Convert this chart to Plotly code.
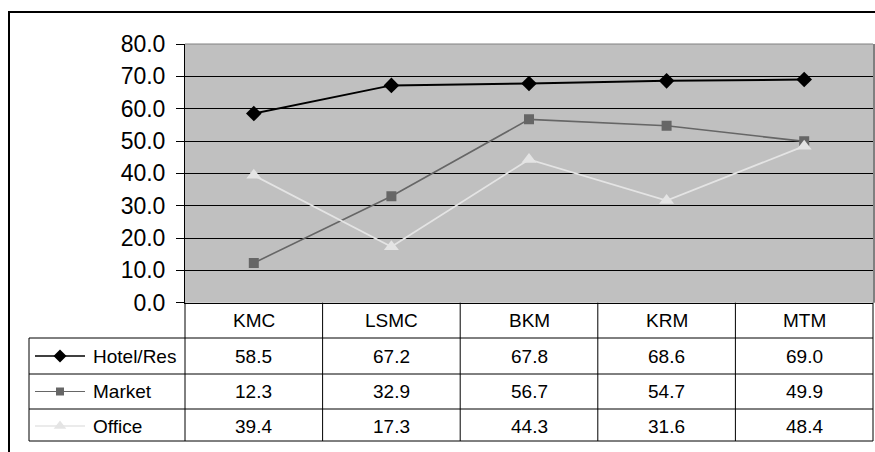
import plotly.graph_objects as go

# Survey results by site
categories = ["KMC", "LSMC", "BKM", "KRM", "MTM"]
hotel_res = [58.5, 67.2, 67.8, 68.6, 69.0]
market = [12.3, 32.9, 56.7, 54.7, 49.9]
office = [39.4, 17.3, 44.3, 31.6, 48.4]
y_ticks = [0, 10, 20, 30, 40, 50, 60, 70, 80]

W, H = 875, 452
FONT = "Liberation Sans, Arial, sans-serif"

# Plot-area box and data-table geometry (pixels)
PL, PR, PT, PB = 185, 873, 44, 302.7
TAB_L = 29
ROW_Y = [338, 374, 409, 441]          # horizontal rule positions
CAT_Y = 320                           # category label row centre
ROW_C = [356, 391.5, 426]             # series row centres
COL_X = [185, 322.6, 460.2, 597.8, 735.4, 873]


def px(x):
    return x / W


def py(y):
    return 1 - y / H


series = [
    dict(name="Hotel/Res", values=hotel_res, color="#000000",
         symbol="diamond", msize=12, lw=2),
    dict(name="Market", values=market, color="#666666",
         symbol="square", msize=10, lw=1.6),
    dict(name="Office", values=office, color="#e4e4e4",
         symbol="triangle-up", msize=13, lw=1.8),
]

fig = go.Figure()

for s in series:
    fig.add_trace(go.Scatter(
        x=categories, y=s["values"], mode="lines+markers",
        name=s["name"], xaxis="x", yaxis="y",
        line=dict(color=s["color"], width=s["lw"]),
        marker=dict(symbol=s["symbol"], size=s["msize"], color=s["color"],
                    line=dict(width=0)),
        showlegend=False, hoverinfo="skip",
    ))

# Legend keys inside the data table, drawn on a pixel-scaled overlay axis
for s, yc in zip(series, ROW_C):
    fig.add_trace(go.Scatter(
        x=[35, 60, 85], y=[yc, yc, yc], mode="lines",
        line=dict(color=s["color"], width=s["lw"] * 0.7),
        xaxis="x2", yaxis="y2", showlegend=False, hoverinfo="skip",
    ))
    fig.add_trace(go.Scatter(
        x=[60], y=[yc], mode="markers",
        marker=dict(symbol=s["symbol"], size=s["msize"] - 2, color=s["color"],
                    line=dict(width=0)),
        xaxis="x2", yaxis="y2", showlegend=False, hoverinfo="skip",
    ))

shapes = []


def hline(y, x0, x1, color="black", width=1):
    shapes.append(dict(type="line", xref="paper", yref="paper",
                       x0=px(x0), x1=px(x1), y0=py(y), y1=py(y),
                       line=dict(color=color, width=width)))


def vline(x, y0, y1, color="black", width=1):
    shapes.append(dict(type="line", xref="paper", yref="paper",
                       x0=px(x), x1=px(x), y0=py(y0), y1=py(y1),
                       line=dict(color=color, width=width)))


# Gray plot-area fill, beneath the gridlines
shapes.append(dict(type="rect", xref="paper", yref="paper", layer="below",
                   x0=px(PL), x1=px(PR), y0=py(PB), y1=py(PT),
                   fillcolor="#c0c0c0", line=dict(width=0)))

# Outer chart frame (top and left edges)
hline(12, 8, 875, width=2)
vline(9, 11, 452, width=2)

# Plot-area border
hline(PT, PL, PR, color="#808080", width=1)
vline(PR + 1, PT, PB, color="#808080", width=2)

# Data table rules
for y in ROW_Y:
    hline(y, TAB_L, PR)
vline(TAB_L, ROW_Y[0], ROW_Y[-1])
for x in COL_X:
    vline(x, PB, ROW_Y[-1])

annotations = []
for c in categories:
    annotations.append(dict(x=c, xref="x", y=py(CAT_Y), yref="paper",
                            text=c, showarrow=False, xanchor="center",
                            yanchor="middle",
                            font=dict(family=FONT, size=19, color="black")))
for s, yc in zip(series, ROW_C):
    annotations.append(dict(x=px(91), xref="paper", y=py(yc), yref="paper",
                            text=s["name"], showarrow=False, xanchor="left",
                            yanchor="middle",
                            font=dict(family=FONT, size=19, color="black")))
    for c, v in zip(categories, s["values"]):
        annotations.append(dict(x=c, xref="x", y=py(yc), yref="paper",
                                text=f"{v:.1f}", showarrow=False,
                                xanchor="center", yanchor="middle",
                                font=dict(family=FONT, size=19, color="black")))

fig.update_layout(
    width=W, height=H,
    margin=dict(l=0, r=0, t=0, b=0),
    paper_bgcolor="white",
    plot_bgcolor="rgba(0,0,0,0)",
    font=dict(family=FONT, color="black"),
    xaxis=dict(domain=[px(PL), px(PR)], range=[-0.5, 4.5], type="category",
               categoryorder="array", categoryarray=categories,
               showticklabels=False, ticks="", showgrid=False,
               zeroline=False, showline=True, linecolor="black",
               linewidth=1, anchor="y", fixedrange=True),
    yaxis=dict(domain=[py(PB), py(PT)], range=[0, 80],
               tickvals=y_ticks, ticktext=[f"{v:.1f}" for v in y_ticks],
               ticks="outside", ticklen=8, tickcolor="black", tickwidth=1,
               tickfont=dict(family=FONT, size=23, color="black"),
               showgrid=True, gridcolor="black", gridwidth=1,
               zeroline=False, showline=True, linecolor="black",
               linewidth=1, anchor="x", ticklabelstandoff=6,
               automargin=False, fixedrange=True),
    xaxis2=dict(domain=[0, 1], range=[0, W], visible=False, anchor="y2",
                fixedrange=True),
    yaxis2=dict(domain=[0, 1], range=[H, 0], visible=False, anchor="x2",
                fixedrange=True),
    shapes=shapes,
    annotations=annotations,
)

fig.write_html("out.html")
